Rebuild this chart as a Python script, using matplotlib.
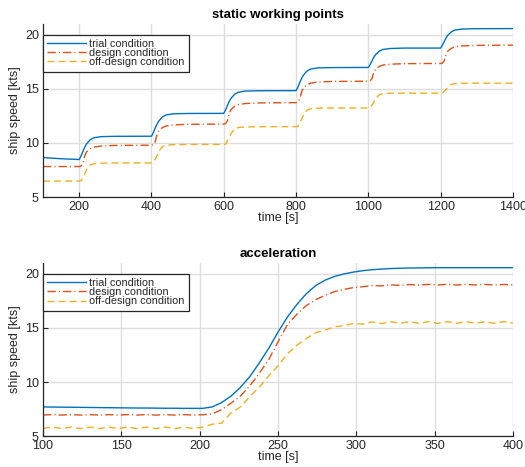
import matplotlib
matplotlib.use("Agg")
import matplotlib.pyplot as plt

plt.rcParams['font.family'] = ['Liberation Sans', 'DejaVu Sans']

# speed traces [kts] for the stepwise working points
step_time = [100, 150,
             200, 205, 210, 215, 220, 230, 240, 260, 300,
             400, 405, 410, 415, 420, 430, 440, 460, 500,
             600, 605, 610, 615, 620, 630, 640, 660, 700,
             800, 805, 810, 815, 820, 830, 840, 860, 900,
             1000, 1005, 1010, 1015, 1020, 1030, 1040, 1060, 1100,
             1200, 1205, 1210, 1215, 1220, 1230, 1240, 1260, 1300,
             1400]
step_trial = [8.65, 8.54,
              8.47, 8.79, 9.20, 9.59, 9.89, 10.28, 10.47, 10.58, 10.61,
              10.62, 10.94, 11.34, 11.72, 12.01, 12.39, 12.58, 12.69, 12.72,
              12.73, 13.05, 13.44, 13.82, 14.12, 14.49, 14.68, 14.79, 14.82,
              14.83, 15.15, 15.56, 15.94, 16.24, 16.63, 16.82, 16.93, 16.96,
              16.97, 17.24, 17.58, 17.90, 18.15, 18.47, 18.63, 18.72, 18.76,
              18.76, 19.03, 19.37, 19.70, 19.95, 20.27, 20.43, 20.52, 20.55,
              20.56]
step_design = [7.82, 7.82,
               7.82, 7.86, 8.12, 8.77, 9.16, 9.46, 9.61, 9.71, 9.77,
               9.79, 9.83, 10.08, 10.73, 11.12, 11.41, 11.56, 11.66, 11.72,
               11.74, 11.78, 12.04, 12.69, 13.09, 13.38, 13.54, 13.64, 13.70,
               13.72, 13.76, 14.02, 14.67, 15.07, 15.36, 15.52, 15.62, 15.68,
               15.70, 15.73, 15.95, 16.49, 16.82, 17.06, 17.19, 17.27, 17.32,
               17.34, 17.37, 17.59, 18.15, 18.49, 18.74, 18.88, 18.96, 19.01,
               19.03]
step_offdesign = [6.48, 6.48,
                  6.48, 6.51, 6.81, 7.11, 7.52, 7.95, 8.08, 8.13, 8.15,
                  8.15, 8.18, 8.49, 8.80, 9.21, 9.65, 9.79, 9.84, 9.86,
                  9.86, 9.89, 10.19, 10.48, 10.88, 11.30, 11.43, 11.48, 11.50,
                  11.50, 11.53, 11.85, 12.16, 12.57, 13.02, 13.16, 13.21, 13.23,
                  13.23, 13.26, 13.50, 13.75, 14.08, 14.44, 14.55, 14.59, 14.60,
                  14.60, 14.62, 14.78, 14.95, 15.17, 15.41, 15.48, 15.51, 15.52,
                  15.52]

# speed traces [kts] for the acceleration run
acc_time = [100, 106, 112, 118, 124, 130, 136, 142, 148, 154,
            160, 166, 172, 178, 184, 190, 196, 202, 208, 214,
            220, 226, 232, 238, 244, 250, 256, 262, 268, 274,
            280, 286, 292, 298, 304, 310, 316, 322, 328, 334,
            340, 346, 352, 358, 364, 370, 376, 382, 388, 394, 400]
acc_trial = [7.70, 7.69, 7.68, 7.67, 7.66, 7.65, 7.64, 7.63, 7.62, 7.61,
             7.60, 7.60, 7.59, 7.58, 7.58, 7.57, 7.57, 7.57, 7.70, 8.10,
             8.70, 9.50, 10.50, 11.75, 13.10, 14.60, 16.00, 17.15, 18.15, 18.90,
             19.40, 19.75, 19.98, 20.15, 20.28, 20.37, 20.43, 20.48, 20.51, 20.53,
             20.54, 20.55, 20.56, 20.56, 20.56, 20.56, 20.56, 20.56, 20.56, 20.56, 20.56]
acc_design = [6.96, 6.99, 6.95, 6.99, 6.95, 6.99, 6.95, 6.99, 6.95, 6.99,
              6.95, 6.99, 6.95, 6.99, 6.95, 6.99, 6.95, 6.98, 7.05, 7.45,
              8.05, 8.70, 9.65, 10.80, 12.05, 13.70, 15.30, 16.25, 17.05, 17.60,
              18.00, 18.35, 18.55, 18.72, 18.80, 18.90, 18.88, 18.97, 18.93, 19.00,
              18.95, 19.02, 18.96, 19.02, 18.96, 19.02, 18.96, 19.02, 18.96, 19.01, 18.97]
acc_offdesign = [5.72, 5.85, 5.70, 5.84, 5.70, 5.84, 5.70, 5.84, 5.70, 5.84,
                 5.70, 5.84, 5.70, 5.84, 5.70, 5.84, 5.70, 5.85, 6.10, 6.20,
                 7.15, 7.70, 8.65, 9.50, 10.55, 11.50, 12.60, 13.40, 14.00, 14.55,
                 14.80, 15.10, 15.20, 15.40, 15.35, 15.55, 15.40, 15.58, 15.42, 15.58,
                 15.42, 15.58, 15.42, 15.58, 15.42, 15.58, 15.42, 15.58, 15.42, 15.58, 15.45]

labels = ['trial condition', 'design condition', 'off-design condition']
colors = ['#0072BD', '#D95319', '#EDB120']
dark = '#262626'


def drawPanel(ax, t, series, title, xlim, xticks):
    styles = [dict(linestyle='-'),
              dict(linestyle=(0, (6, 2.2, 0.8, 2.2))),
              dict(linestyle=(0, (5, 3)))]
    for y, label, color, style in zip(series, labels, colors, styles):
        ax.plot(t, y, color=color, linewidth=1.0, label=label, **style)

    ax.set_xlim(*xlim)
    ax.set_ylim(5, 21)
    ax.set_xticks(xticks)
    ax.set_yticks([5, 10, 15, 20])
    ax.grid(True, color='#dedede', linewidth=1.0)
    ax.set_axisbelow(True)
    for side in ['top', 'right']:
        ax.spines[side].set_visible(False)
    for side in ['left', 'bottom']:
        ax.spines[side].set_color(dark)
        ax.spines[side].set_linewidth(0.9)
    ax.tick_params(direction='in', length=3.5, width=0.8, colors=dark,
                   labelsize=9, pad=3)

    ax.set_title(title, fontsize=9.5, fontweight='bold', pad=4)
    ax.set_xlabel('time [s]', fontsize=9, color=dark, labelpad=-1)
    ax.set_ylabel('ship speed [kts]', fontsize=9, color=dark, labelpad=3)

    # legend box sits flush on the left axis, top edge on the 20 kts line
    leg = ax.legend(loc='upper left', bbox_to_anchor=(xlim[0], 20),
                    bbox_transform=ax.transData, borderaxespad=0,
                    fontsize=7.8, handlelength=3.6, handletextpad=0.25,
                    labelspacing=-0.08, borderpad=0.4, fancybox=False,
                    framealpha=1, edgecolor=dark)
    leg.get_frame().set_linewidth(0.9)
    for txt in leg.get_texts():
        txt.set_color(dark)


fig = plt.figure(figsize=(5.25, 4.67), dpi=100)
axTop = fig.add_axes([0.082, 0.578, 0.895, 0.371])
axBottom = fig.add_axes([0.082, 0.066, 0.895, 0.371])

drawPanel(axTop, step_time, [step_trial, step_design, step_offdesign],
          'static working points', (100, 1400), [200, 400, 600, 800, 1000, 1200, 1400])
drawPanel(axBottom, acc_time, [acc_trial, acc_design, acc_offdesign],
          'acceleration', (100, 400), [100, 150, 200, 250, 300, 350, 400])

fig.savefig('out.png', dpi=100)
